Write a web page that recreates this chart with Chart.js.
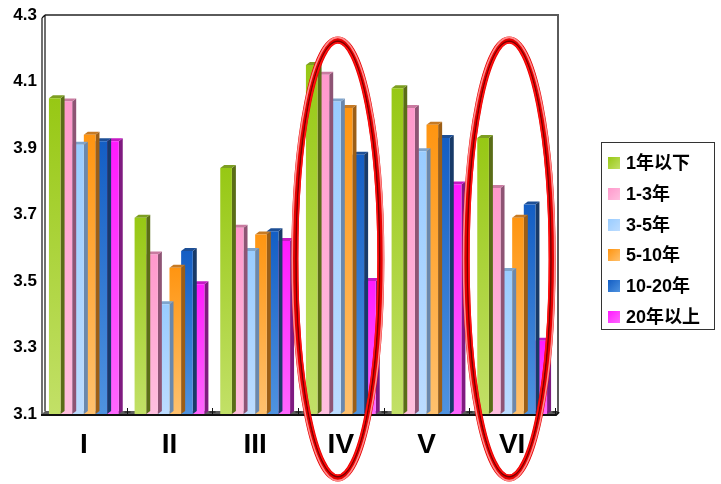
<!DOCTYPE html>
<html>
<head>
<meta charset="utf-8">
<script src="https://cdn.jsdelivr.net/npm/chart.js@4.4.1/dist/chart.umd.min.js"></script>
<style>
  html, body { margin: 0; padding: 0; background: #ffffff; }
  #wrap { width: 721px; height: 484px; position: relative; }
</style>
</head>
<body>
<div id="wrap"><canvas id="c" width="721" height="484"></canvas></div>
<script>
// Group labels along the bottom axis
const categories = ['I', 'II', 'III', 'IV', 'V', 'VI'];

// Series (years of service) and their scores per group
const seriesNames = ['1年以下', '1-3年', '3-5年', '5-10年', '10-20年', '20年以上'];
const under1Year  = [4.05, 3.69, 3.84, 4.15, 4.08, 3.93];
const years1to3   = [4.04, 3.58, 3.66, 4.12, 4.02, 3.78];
const years3to5   = [3.91, 3.43, 3.59, 4.04, 3.89, 3.53];
const years5to10  = [3.94, 3.54, 3.64, 4.02, 3.97, 3.69];
const years10to20 = [3.92, 3.59, 3.65, 3.88, 3.93, 3.73];
const over20Years = [3.92, 3.49, 3.62, 3.50, 3.79, 3.32];

// Value axis
const yMin = 3.1;
const yMax = 4.3;
const yStep = 0.2;

// Groups circled in red
const circledGroups = ['IV', 'VI'];

// Face colours for each series: front (top -> bottom), top face, side face
const palette = [
  { top: '#97c814', bottom: '#c2e067', lid: '#7d9e22', side: '#5a6d17' },
  { top: '#ff99cc', bottom: '#ffbfdf', lid: '#c97aa0', side: '#8e5474' },
  { top: '#99ccff', bottom: '#bcdcff', lid: '#7fa4cc', side: '#6a88ad' },
  { top: '#ff9511', bottom: '#ffc16e', lid: '#c67a24', side: '#9c5e16' },
  { top: '#145ec4', bottom: '#4f93e0', lid: '#1d4f96', side: '#183a68' },
  { top: '#ff1aff', bottom: '#ff66ff', lid: '#c41ac4', side: '#7f1a80' }
];
const seriesValues = [under1Year, years1to3, years3to5, years5to10, years10to20, over20Years];

const DX = 4, DY = 3; // bar depth

const FONT = '"Liberation Sans", Arial, "Noto Sans CJK SC", sans-serif';

function frontFill(i) {
  return (ctx) => {
    const chart = ctx.chart;
    const area = chart.chartArea;
    const ys = chart.scales && chart.scales.y;
    if (!area || !ys || ctx.raw == null) return palette[i].top;
    const yTop = ys.getPixelForValue(ctx.raw);
    const g = chart.ctx.createLinearGradient(0, yTop, 0, area.bottom);
    g.addColorStop(0, palette[i].top);
    g.addColorStop(1, palette[i].bottom);
    return g;
  };
}

// Top and side faces of each bar, drawn just before its front face
const bar3d = {
  id: 'bar3d',
  beforeDatasetDraw(chart, args) {
    const c = chart.ctx;
    const a = chart.chartArea;
    const p = palette[args.index];
    c.save();
    args.meta.data.forEach((bar) => {
      const l = bar.x - bar.width / 2, r = bar.x + bar.width / 2;
      const t = bar.y, b = Math.min(bar.base, a.bottom);
      c.fillStyle = p.side;
      c.beginPath();
      c.moveTo(r, t); c.lineTo(r + DX, t - DY); c.lineTo(r + DX, b - DY); c.lineTo(r, b);
      c.closePath(); c.fill();
      c.fillStyle = p.lid;
      c.beginPath();
      c.moveTo(l, t); c.lineTo(r, t); c.lineTo(r + DX, t - DY); c.lineTo(l + DX, t - DY);
      c.closePath(); c.fill();
    });
    c.restore();
  }
};

// Back wall, left wall and floor
const frame = {
  id: 'frame',
  beforeDatasetsDraw(chart) {
    const c = chart.ctx, a = chart.chartArea;
    c.save();
    // back wall outline
    c.strokeStyle = '#5a5a5a';
    c.lineWidth = 2;
    c.beginPath();
    c.moveTo(a.left + DX, a.top);
    c.lineTo(a.right + DX - 1, a.top);
    c.lineTo(a.right + DX - 1, a.bottom - DY);
    c.stroke();
    // left wall: two edges
    c.strokeStyle = '#111';
    c.lineWidth = 1.2;
    c.beginPath();
    c.moveTo(a.left + DX, a.top);
    c.lineTo(a.left + DX, a.bottom - DY);
    c.moveTo(a.left + 1, a.top + DY);
    c.lineTo(a.left + 1, a.bottom);
    c.moveTo(a.left + 1, a.top + DY);
    c.lineTo(a.left + DX, a.top);
    c.stroke();
    // floor band
    c.fillStyle = '#5e5e5e';
    c.beginPath();
    c.moveTo(a.left + 1, a.bottom);
    c.lineTo(a.left + DX, a.bottom - DY);
    c.lineTo(a.right + DX, a.bottom - DY);
    c.lineTo(a.right, a.bottom);
    c.closePath();
    c.fill();
    c.restore();
  },
  afterDatasetsDraw(chart) {
    const c = chart.ctx, a = chart.chartArea;
    c.save();
    c.strokeStyle = '#111';
    c.lineWidth = 2;
    c.beginPath();
    c.moveTo(a.left, a.bottom + 1);
    c.lineTo(a.right + 1, a.bottom + 1);
    c.lineTo(a.right + DX, a.bottom - DY + 1);
    c.stroke();
    // category boundary ticks
    c.lineWidth = 1;
    const step = (a.right - a.left) / categories.length;
    for (let i = 1; i <= categories.length; i++) {
      const x = Math.round(a.left + step * i) + 0.5;
      c.beginPath();
      c.moveTo(x, a.bottom - 6);
      c.lineTo(x, a.bottom + 2);
      c.moveTo(x - 3, a.bottom - 2);
      c.lineTo(x + 3, a.bottom - 2);
      c.stroke();
    }
    c.restore();
  }
};

// Red rings round selected groups, and the boxed legend
const overlay = {
  id: 'overlay',
  afterDraw(chart) {
    const c = chart.ctx, xs = chart.scales.x;
    c.save();
    circledGroups.forEach((name) => {
      const cx = xs.getPixelForValue(categories.indexOf(name)) - 3;
      const cy = 259, rx = 43, ry = 219;
      const ring = (dr, w, col) => {
        c.beginPath();
        c.ellipse(cx, cy, rx + dr, ry + dr, 0, 0, Math.PI * 2);
        c.lineWidth = w;
        c.strokeStyle = col;
        c.stroke();
      };
      ring(0, 7, '#e60000');
      ring(2.6, 1.6, '#ff8c8c');
      ring(-1.2, 1.4, '#7a0000');
      ring(-2.8, 1.4, '#ff1010');
    });
    c.restore();

    // legend
    const bx = 601, by = 142, bw = 113, bh = 187;
    c.save();
    c.fillStyle = '#fff';
    c.fillRect(bx, by, bw, bh);
    c.strokeStyle = '#333';
    c.lineWidth = 1;
    c.strokeRect(bx + 0.5, by + 0.5, bw, bh);
    c.font = 'bold 18px ' + FONT;
    c.textBaseline = 'middle';
    seriesNames.forEach((name, i) => {
      const y = 163 + i * 30.8;
      const g = c.createLinearGradient(608, y - 6, 620, y + 6);
      g.addColorStop(0, palette[i].top);
      g.addColorStop(1, palette[i].bottom);
      c.fillStyle = g;
      c.fillRect(608, Math.round(y - 6), 12, 12);
      c.fillStyle = '#000';
      c.fillText(name, 626, y + 1);
    });
    c.restore();
  }
};

const datasets = seriesNames.map((name, i) => ({
  label: name,
  data: seriesValues[i],
  backgroundColor: frontFill(i),
  borderWidth: 0,
  categoryPercentage: 0.815,
  barPercentage: 1.0
}));

new Chart(document.getElementById('c'), {
  type: 'bar',
  data: { labels: categories, datasets },
  options: {
    responsive: false,
    animation: false,
    layout: { padding: { top: 15, right: 166, left: 0, bottom: 0 } },
    plugins: { legend: { display: false }, tooltip: { enabled: false } },
    scales: {
      x: {
        grid: { display: false, drawTicks: false },
        border: { display: false },
        ticks: {
          color: '#000',
          padding: 14,
          font: { family: FONT, size: 28, weight: 'bold' }
        },
        afterFit(scale) { scale.height = 70; }
      },
      y: {
        min: yMin,
        max: yMax,
        grid: { display: false, drawTicks: false },
        border: { display: false },
        ticks: {
          stepSize: yStep,
          color: '#000',
          padding: 4,
          font: { family: FONT, size: 17, weight: 'bold' },
          callback: (v) => v.toFixed(1)
        },
        afterFit(scale) { scale.width = 41; }
      }
    }
  },
  plugins: [frame, bar3d, overlay]
});
</script>
</body>
</html>
